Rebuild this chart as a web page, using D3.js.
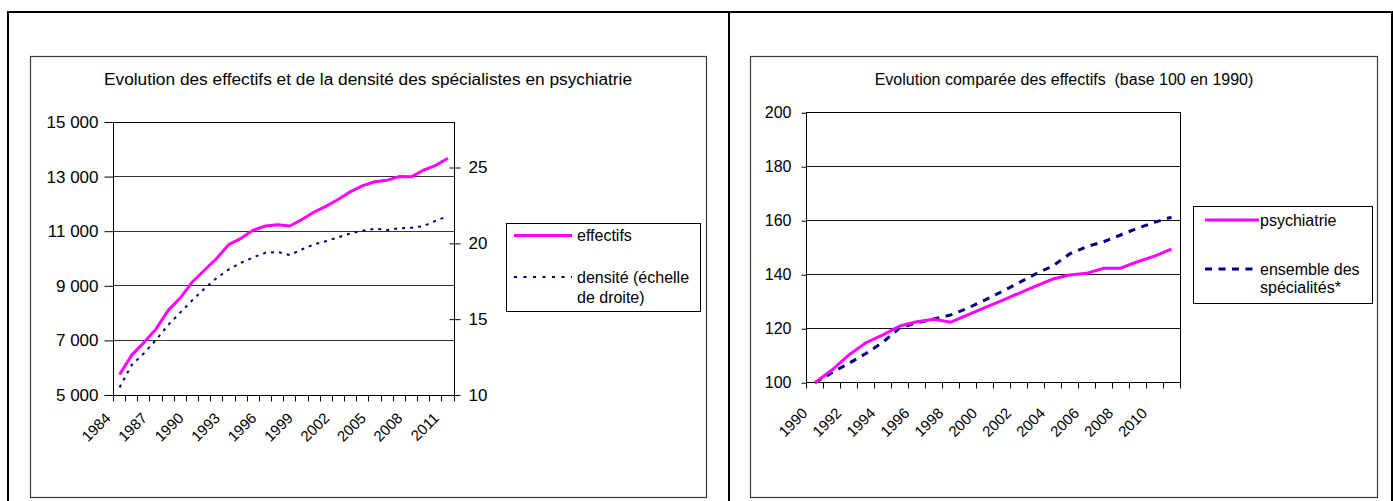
<!DOCTYPE html>
<html><head><meta charset="utf-8">
<script src="https://cdn.jsdelivr.net/npm/d3@7"></script>
<style>
html,body{margin:0;padding:0;background:#fff;}
svg{display:block;font-family:"Liberation Sans",Arial,sans-serif;}
</style></head><body>
<svg id="chart" width="1393" height="501"></svg>
<script>
// ---------- DATA ----------
const leftYears = [1984,1985,1986,1987,1988,1989,1990,1991,1992,1993,1994,1995,1996,1997,
                   1998,1999,2000,2001,2002,2003,2004,2005,2006,2007,2008,2009,2010,2011];
const leftYearLabels = [1984,1987,1990,1993,1996,1999,2002,2005,2008,2011];
const effectifs = [5750,6460,6920,7420,8100,8560,9150,9580,10010,10520,10740,11040,11190,11240,
                   11190,11430,11700,11920,12170,12450,12670,12810,12870,13000,12990,13240,13410,13670];
const densite = [10.5,11.98,12.75,13.63,14.62,15.45,16.26,17.03,17.73,18.29,18.72,19.08,19.38,19.43,
                 19.23,19.6,19.93,20.15,20.4,20.66,20.83,20.97,20.88,20.99,21.03,21.14,21.49,21.8];
const leftTicks = [5000,7000,9000,11000,13000,15000];
const densTicks = [10,15,20,25];
const leftTitle = "Evolution des effectifs et de la densité des spécialistes en psychiatrie";
const leftLegend = ["effectifs", ["densité (échelle", "de droite)"]];

const rightYears = [1990,1991,1992,1993,1994,1995,1996,1997,1998,1999,2000,2001,2002,2003,
                    2004,2005,2006,2007,2008,2009,2010,2011];
const rightYearLabels = [1990,1992,1994,1996,1998,2000,2002,2004,2006,2008,2010];
const psychiatrie = [100,104.7,110.3,114.8,117.7,121.0,122.6,123.5,122.4,125.1,127.8,130.4,133.1,
                     135.8,138.4,139.9,140.5,142.4,142.4,144.8,146.9,149.5];
const ensemble = [100,103.7,107.2,110.8,115.0,120.3,122.2,123.6,125.1,127.6,130.6,133.7,137.0,
                  140.3,143.2,147.7,150.4,152.2,154.7,157.2,159.4,161.3];
const rightTicks = [100,120,140,160,180,200];
const rightTitle = "Evolution comparée des effectifs  (base 100 en 1990)";
const rightLegend = ["psychiatrie", ["ensemble des", "spécialités*"]];

// ---------- DRAW ----------
const svg = d3.select("#chart");
const snap = v => Math.round(v - 0.5) + 0.5;
const PINK = "#FF00FF", NAVY = "#000080";
const fr = d3.formatLocale({decimal: ",", thousands: " ", grouping: [3], currency: ["", ""]});
const fmtThousands = fr.format(",");

// outer frame
svg.append("rect").attr("x", 8).attr("y", 12).attr("width", 1384).attr("height", 520)
  .attr("fill", "none").attr("stroke", "#000").attr("stroke-width", 2);
svg.append("line").attr("x1", 729).attr("x2", 729).attr("y1", 12).attr("y2", 520)
  .attr("stroke", "#000").attr("stroke-width", 2);

// chart boxes
[[30.5, 56.5, 676], [750.5, 56.5, 627]].forEach(([x, y, w]) => {
  svg.append("rect").attr("x", x).attr("y", y).attr("width", w).attr("height", 441)
    .attr("fill", "#fff").attr("stroke", "#3a3a3a").attr("stroke-width", 1.2);
});

function drawPlot(cfg) {
  const g = svg.append("g");
  const x = d3.scaleBand().domain(cfg.years).range([cfg.x0, cfg.x1]).padding(0);
  const y = d3.scaleLinear().domain(cfg.yDomain).range([cfg.y1, cfg.y0]);
  const bw = x.bandwidth();
  const cx = d => x(d) + bw / 2;

  // title
  g.append("text").attr("x", cfg.titleX).attr("y", cfg.titleY)
    .attr("text-anchor", "middle").attr("font-size", cfg.titleSize)
    .style("white-space", "pre").text(cfg.title);

  // gridlines
  g.append("g").selectAll("line").data(cfg.yTicks).join("line")
    .attr("x1", cfg.x0).attr("x2", cfg.x1)
    .attr("y1", d => snap(y(d))).attr("y2", d => snap(y(d)))
    .attr("stroke", cfg.gridColor).attr("stroke-width", 1);

  // plot border
  g.append("rect").attr("x", snap(cfg.x0)).attr("y", snap(cfg.y0))
    .attr("width", Math.round(cfg.x1 - cfg.x0)).attr("height", Math.round(cfg.y1 - cfg.y0))
    .attr("fill", "none").attr("stroke", "#000").attr("stroke-width", 1);

  // left axis
  const ax = g.append("g").attr("transform", `translate(${snap(cfg.x0)},0)`)
    .call(d3.axisLeft(y).tickValues(cfg.yTicks).tickSize(cfg.yTickSize)
      .tickPadding(cfg.yTickPad).tickFormat(cfg.yFormat));
  ax.select(".domain").remove();
  ax.selectAll("line").attr("stroke", "#000");
  ax.selectAll("text").attr("font-size", cfg.tickSize).attr("fill", "#000")
    .attr("font-family", null);

  // x tick marks between categories
  const edges = cfg.years.map(d => x(d)).concat([cfg.x1]);
  g.append("g").selectAll("line").data(edges).join("line")
    .attr("x1", d => snap(d)).attr("x2", d => snap(d))
    .attr("y1", snap(cfg.y1)).attr("y2", snap(cfg.y1) + 6)
    .attr("stroke", "#000");

  // x labels
  const xa = g.append("g").attr("transform", `translate(0,${cfg.y1})`)
    .call(d3.axisBottom(x).tickValues(cfg.labels).tickSize(0));
  xa.select(".domain").remove();
  xa.selectAll("text").attr("font-size", cfg.xLabelSize).attr("fill", "#000")
    .attr("font-family", null)
    .attr("x", 0).attr("y", 0).attr("dy", 0)
    .attr("text-anchor", "end")
    .attr("transform", `translate(${cfg.xLabDx},${cfg.xLabDy}) rotate(-45)`);

  return {g, x, y, cx};
}

// ----- Left chart -----
const L = drawPlot({
  years: leftYears, labels: leftYearLabels, x0: 113.5, x1: 454, y0: 122, y1: 395,
  yDomain: [5000, 15000], yTicks: leftTicks, yFormat: fmtThousands, gridColor: "#333",
  yTickSize: 9, yTickPad: 6, tickSize: 17, xLabelSize: 15, xLabDx: -8, xLabDy: 24,
  title: leftTitle, titleX: 368, titleY: 85, titleSize: 17.3
});
// right (density) axis
const yD = d3.scaleLinear().domain([10, 28]).range([395, 122]);
const ra = L.g.append("g").attr("transform", `translate(${snap(454)},0)`)
  .call(d3.axisRight(yD).tickValues(densTicks).tickSize(6).tickPadding(8));
ra.select(".domain").remove();
ra.selectAll(".tick line").attr("x1", -5).attr("x2", 6).attr("stroke", "#000");
ra.selectAll("text").attr("font-size", 17).attr("fill", "#000").attr("font-family", null);

L.g.append("path").datum(densite)
  .attr("d", d3.line().x((d, i) => L.cx(leftYears[i])).y(d => yD(d)))
  .attr("fill", "none").attr("stroke", NAVY).attr("stroke-width", 2)
  .attr("stroke-dasharray", "3,5");
L.g.append("path").datum(effectifs)
  .attr("d", d3.line().x((d, i) => L.cx(leftYears[i])).y(d => L.y(d)))
  .attr("fill", "none").attr("stroke", PINK).attr("stroke-width", 3)
  .attr("stroke-linejoin", "round");

// left legend
const lg = svg.append("g");
lg.append("rect").attr("x", 506.5).attr("y", 223.5).attr("width", 194).attr("height", 88)
  .attr("fill", "#fff").attr("stroke", "#000");
lg.append("line").attr("x1", 514).attr("x2", 572).attr("y1", 235.5).attr("y2", 235.5)
  .attr("stroke", PINK).attr("stroke-width", 3);
lg.append("text").attr("x", 577).attr("y", 235).attr("dominant-baseline", "central")
  .attr("font-size", 16).text(leftLegend[0]);
lg.append("line").attr("x1", 514).attr("x2", 572).attr("y1", 277).attr("y2", 277)
  .attr("stroke", NAVY).attr("stroke-width", 2).attr("stroke-dasharray", "3,6.5");
leftLegend[1].forEach((t, i) => lg.append("text").attr("x", 577).attr("y", 277 + i * 20)
  .attr("dominant-baseline", "central").attr("font-size", 16).text(t));

// ----- Right chart -----
const R = drawPlot({
  years: rightYears, labels: rightYearLabels, x0: 806.5, x1: 1180, y0: 112.7, y1: 382.7,
  yDomain: [100, 200], yTicks: rightTicks, yFormat: d3.format("d"), gridColor: "#111",
  yTickSize: 5, yTickPad: 10, tickSize: 16, xLabelSize: 15, xLabDx: -6.5, xLabDy: 31.5,
  title: rightTitle, titleX: 1064, titleY: 85, titleSize: 16
});
R.g.append("path").datum(ensemble)
  .attr("d", d3.line().x((d, i) => R.cx(rightYears[i])).y(d => R.y(d)))
  .attr("fill", "none").attr("stroke", NAVY).attr("stroke-width", 3)
  .attr("stroke-dasharray", "7,6.5");
R.g.append("path").datum(psychiatrie)
  .attr("d", d3.line().x((d, i) => R.cx(rightYears[i])).y(d => R.y(d)))
  .attr("fill", "none").attr("stroke", PINK).attr("stroke-width", 3)
  .attr("stroke-linejoin", "round");

// right legend
const rg = svg.append("g");
rg.append("rect").attr("x", 1193.5).attr("y", 206.5).attr("width", 179).attr("height", 97)
  .attr("fill", "#fff").attr("stroke", "#000");
rg.append("line").attr("x1", 1205).attr("x2", 1259).attr("y1", 220).attr("y2", 220)
  .attr("stroke", PINK).attr("stroke-width", 3);
rg.append("text").attr("x", 1260).attr("y", 220).attr("dominant-baseline", "central")
  .attr("font-size", 16).text(rightLegend[0]);
rg.append("line").attr("x1", 1205).attr("x2", 1259).attr("y1", 269).attr("y2", 269)
  .attr("stroke", NAVY).attr("stroke-width", 3).attr("stroke-dasharray", "7,6.5");
rightLegend[1].forEach((t, i) => rg.append("text").attr("x", 1260).attr("y", 269 + i * 18)
  .attr("dominant-baseline", "central").attr("font-size", 16).text(t));
</script>
</body></html>
